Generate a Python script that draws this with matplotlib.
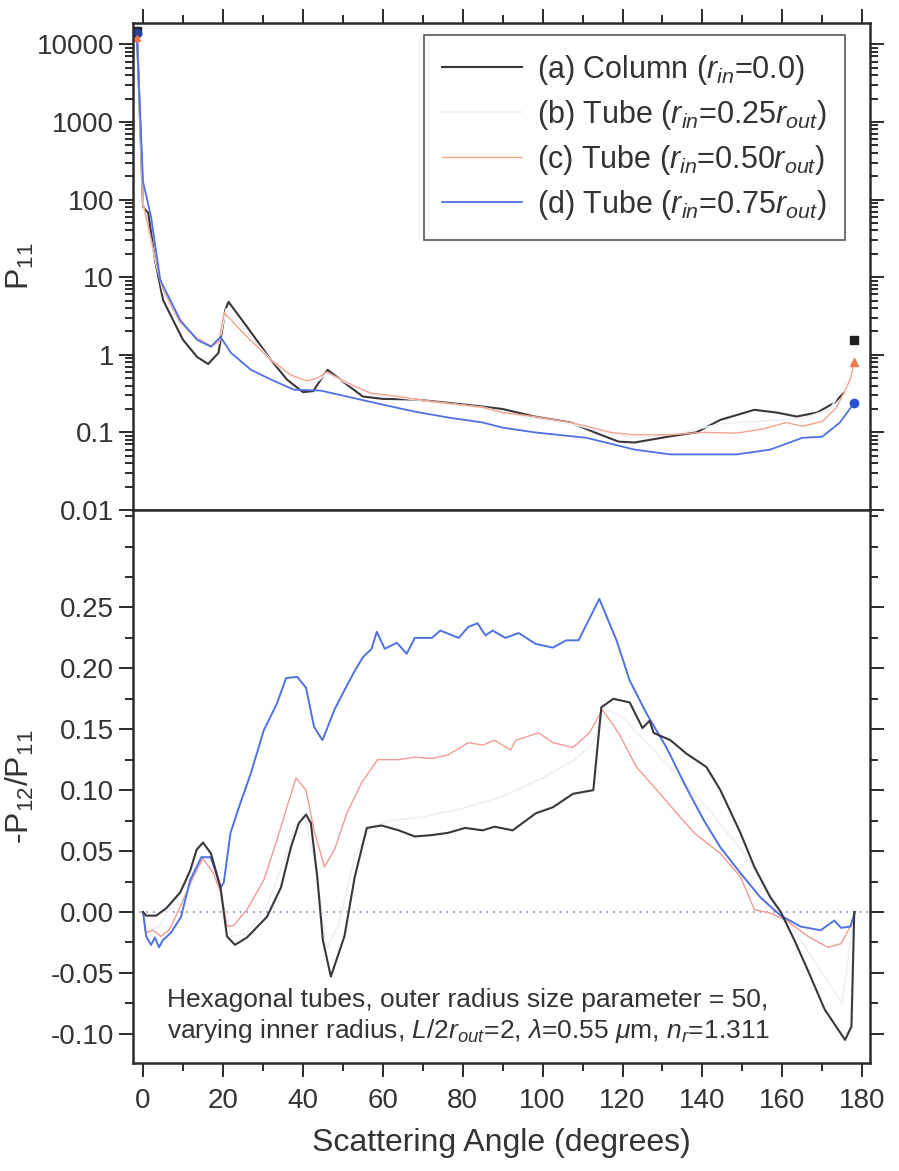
'''
Phase function P11 and degree of linear polarization -P12/P11 for hexagonal
columns and tubes with varying inner radius.
'''

import numpy as np
import matplotlib
matplotlib.use("Agg")
import matplotlib.pyplot as plt
from matplotlib.ticker import MultipleLocator, LogLocator, NullFormatter

plt.rcParams['font.family'] = ['Liberation Sans', 'DejaVu Sans']
plt.rcParams['mathtext.fontset'] = 'custom'
plt.rcParams['mathtext.rm'] = 'Liberation Sans'
plt.rcParams['mathtext.it'] = 'Liberation Sans:italic'

# ---- top panel: P11 (log scale) ----
ang_a_top = [-1.5, 0, 1.3, 3, 5, 7.5, 10, 13.5, 16.3, 18.9, 20.6, 21.4, 26, 32, 36, 40, 42.6,
             44.5, 46.2, 50.3, 55, 60, 68, 76.5, 85, 90, 98, 107, 113, 119, 123, 132,
             138.5, 144.5, 153, 158.6, 163.6, 168.7, 173, 175.3]
p11_a = [13800, 80, 67, 16.6, 5.1, 2.8, 1.56, 0.94, 0.76, 1.06, 3.8, 4.8, 2.3, 0.86, 0.48,
         0.33, 0.34, 0.48, 0.64, 0.44, 0.29, 0.27, 0.265, 0.24, 0.215, 0.20, 0.16, 0.134,
         0.10, 0.076, 0.074, 0.089, 0.10, 0.145, 0.195, 0.18, 0.16, 0.18, 0.24, 0.32]

ang_b_top = [-1.5, 0, 3, 5, 9, 13.5, 17, 19, 20.8, 26, 32, 37, 41, 44, 46, 51, 57, 64, 72,
             85, 95, 107, 117, 125, 135, 145, 155, 165, 172, 176]
p11_b = [12500, 85, 17, 6.5, 2.7, 1.6, 1.25, 1.4, 3.9, 1.9, 0.86, 0.52, 0.42, 0.47, 0.58,
         0.43, 0.31, 0.28, 0.25, 0.21, 0.16, 0.13, 0.095, 0.085, 0.10, 0.13, 0.14, 0.15,
         0.2, 0.45]

ang_c_top = [-1.5, 0, 3, 5, 9.3, 13.5, 17, 19, 20.3, 26, 32, 37, 41, 43.6, 46, 51, 57, 64,
             72, 85, 90, 98, 107, 111, 117, 123, 132, 140, 148.6, 155, 161, 165, 170,
             173.6, 177, 178]
p11_c = [12000, 90, 18, 7, 2.6, 1.65, 1.3, 1.47, 3.5, 1.7, 0.86, 0.55, 0.46, 0.50, 0.6,
         0.44, 0.32, 0.29, 0.25, 0.21, 0.18, 0.16, 0.134, 0.12, 0.10, 0.093, 0.093, 0.10,
         0.098, 0.11, 0.134, 0.12, 0.138, 0.21, 0.48, 0.81]

ang_d_top = [-1.5, 0, 2, 4.3, 9.3, 13.5, 17, 19.4, 22, 27, 32, 37.7, 44.5, 51, 59.6, 68,
             76.5, 85, 90, 98, 111, 123, 132, 140, 148.6, 157, 165, 170, 174.4, 178]
p11_d = [11000, 170, 60, 9.2, 2.8, 1.56, 1.27, 1.7, 1.06, 0.64, 0.48, 0.355, 0.345, 0.29,
         0.23, 0.185, 0.155, 0.134, 0.115, 0.10, 0.085, 0.06, 0.052, 0.052, 0.052, 0.06,
         0.085, 0.088, 0.134, 0.24]

# forward / backward peak markers
fwd_ang = -1.5
back_ang = 178
fwd_a, fwd_c, fwd_d = 15000, 12000, 14000
back_a, back_c, back_d = 1.56, 0.81, 0.24

# ---- bottom panel: -P12/P11 ----
ang_a_bot = [0, 0.8, 3.3, 5.8, 9.3, 11.8, 13.4, 15, 17, 19.4, 21, 23, 26, 31, 34.5, 37, 39,
             40.8, 42, 43.6, 45, 47, 50.4, 53, 56, 59.7, 64, 68, 72, 76.4, 80.6, 85, 88,
             92.5, 98.3, 102.6, 107.6, 112.7, 114.7, 117.7, 121.8, 125, 126.8, 127.8, 132,
             136, 141, 144.5, 149.5, 153, 157, 159.6, 163, 166.4, 170.6, 175.7, 177.3, 178]
pol_a = [0, -0.003, -0.003, 0.003, 0.016, 0.034, 0.051, 0.057, 0.048, 0.02, -0.02, -0.027,
         -0.021, -0.004, 0.02, 0.053, 0.073, 0.08, 0.073, 0.029, -0.023, -0.053, -0.02,
         0.029, 0.069, 0.071, 0.067, 0.062, 0.063, 0.065, 0.069, 0.067, 0.07, 0.067, 0.081,
         0.086, 0.097, 0.10, 0.168, 0.175, 0.172, 0.151, 0.157, 0.147, 0.141, 0.13, 0.119,
         0.10, 0.065, 0.037, 0.012, 0.0, -0.023, -0.048, -0.08, -0.105, -0.094, 0.0]

ang_b_bot = [0, 1, 4, 8, 12, 15, 17.5, 20, 22, 26, 31, 35, 38, 40.5, 43, 46, 49, 53, 57, 62,
             70, 80, 90, 100, 108, 113, 115, 120, 130, 140, 150, 160, 165, 170, 175, 178]
pol_b = [0, -0.015, -0.012, 0.01, 0.03, 0.045, 0.04, 0.01, -0.02, -0.018, 0.005, 0.04,
         0.07, 0.078, 0.04, -0.03, -0.01, 0.045, 0.07, 0.075, 0.078, 0.085, 0.095, 0.11,
         0.125, 0.14, 0.168, 0.16, 0.125, 0.09, 0.05, 0.0, -0.025, -0.05, -0.075, 0.0]

ang_c_bot = [0, 0.6, 2.5, 4.5, 6.5, 9, 12.6, 15, 17.6, 19.4, 21, 22.7, 26, 30.2, 33.5, 36,
             38.3, 40.8, 42.8, 45.4, 47.9, 51, 54.7, 58.7, 63.8, 68, 72.3, 76.4, 81.4, 85,
             88, 92, 93.3, 99, 102.6, 107.6, 111.7, 115, 119, 123.5, 127.8, 132.8, 137.9,
             144.5, 149.5, 153, 157, 161, 166.4, 171.4, 174.7, 177, 178.2]
pol_c = [0, -0.017, -0.015, -0.02, -0.015, 0.002, 0.029, 0.044, 0.032, 0.016, -0.012,
         -0.011, 0.002, 0.026, 0.059, 0.086, 0.11, 0.10, 0.067, 0.037, 0.051, 0.081, 0.106,
         0.125, 0.125, 0.127, 0.126, 0.129, 0.139, 0.137, 0.141, 0.133, 0.141, 0.147, 0.139,
         0.135, 0.147, 0.166, 0.147, 0.119, 0.103, 0.084, 0.065, 0.048, 0.029, 0.002,
         -0.001, -0.007, -0.02, -0.029, -0.026, -0.012, 0.0]

ang_d_bot = [0, 0.8, 2, 3, 4, 5, 7, 9.5, 11.8, 14.6, 16.9, 18, 19.4, 20.2, 21.9, 24, 27,
             30.2, 33.5, 35.8, 38.6, 40.8, 42.8, 44.9, 47.9, 50.4, 53, 55, 57.2, 58.5, 60.5,
             63.5, 66, 68, 72.3, 74.4, 79, 81.4, 83.7, 85.7, 87.5, 90.7, 94, 98.3, 102.6,
             105.9, 109, 114.2, 118.5, 121.8, 126, 131, 136, 140.4, 144.5, 149.5, 154.5,
             159.6, 164.6, 169.6, 173, 174.7, 177, 178.2]
pol_d = [0, -0.02, -0.027, -0.021, -0.029, -0.023, -0.017, -0.004, 0.026, 0.045, 0.045,
         0.035, 0.02, 0.024, 0.065, 0.086, 0.114, 0.149, 0.171, 0.192, 0.193, 0.184, 0.152,
         0.141, 0.166, 0.182, 0.198, 0.209, 0.216, 0.23, 0.216, 0.221, 0.212, 0.225, 0.225,
         0.231, 0.225, 0.234, 0.237, 0.227, 0.231, 0.225, 0.229, 0.22, 0.217, 0.223, 0.223,
         0.257, 0.223, 0.19, 0.163, 0.135, 0.102, 0.075, 0.053, 0.032, 0.012, -0.003,
         -0.012, -0.015, -0.007, -0.013, -0.012, 0.0]

LABELS = [r"(a) Column ($\it{r}_{\it{in}}$=0.0)",
          r"(b) Tube ($\it{r}_{\it{in}}$=0.25$\it{r}_{\it{out}}$)",
          r"(c) Tube ($\it{r}_{\it{in}}$=0.50$\it{r}_{\it{out}}$)",
          r"(d) Tube ($\it{r}_{\it{in}}$=0.75$\it{r}_{\it{out}}$)"]

C_A = "#3b3639"
C_B = "#edf0f6"
C_C = "#f2a58e"
C_D = "#4f72e3"
SPINE = "#2e2a2c"


def style_axes(ax):
    for s in ax.spines.values():
        s.set_linewidth(1.8)
        s.set_color(SPINE)
    ax.tick_params(which='both', direction='out', color=SPINE, width=1.4,
                   labelsize=20, labelcolor="#333")
    ax.tick_params(which='major', length=10)
    ax.tick_params(which='minor', length=6)


fig = plt.figure(figsize=(8.99, 11.71), dpi=100)
ax1 = fig.add_axes([0.148, 0.5645, 0.820, 0.4155])
ax2 = fig.add_axes([0.148, 0.0922, 0.820, 0.4723])

# top panel
ax1.plot(ang_a_top, p11_a, color=C_A, lw=1.5, label=LABELS[0])
ax1.plot(ang_b_top, p11_b, color=C_B, lw=1.2, label=LABELS[1])
ax1.plot(ang_c_top, p11_c, color=C_C, lw=1.0, label=LABELS[2])
ax1.plot(ang_d_top, p11_d, color=C_D, lw=1.3, label=LABELS[3])
ax1.plot([fwd_ang], [fwd_a], 's', color="#222", ms=6)
ax1.plot([fwd_ang], [fwd_d], 'o', color="#2a3f9a", ms=6)
ax1.plot([fwd_ang], [fwd_c], '^', color="#f07040", ms=5)
ax1.plot([back_ang], [back_a], 's', color="#222", ms=6)
ax1.plot([back_ang], [back_c], '^', color="#f07850", ms=6)
ax1.plot([back_ang], [back_d], 'o', color="#2a4fd0", ms=6)

ax1.set_yscale('log')
ax1.set_ylim(0.01, 18600)
ax1.set_xlim(-2.5, 182)
ax1.set_yticks([0.01, 0.1, 1, 10, 100, 1000, 10000])
ax1.set_yticklabels(["0.01", "0.1", "1", "10", "100", "1000", "10000"])
ax1.yaxis.set_minor_locator(LogLocator(base=10, subs=np.arange(2, 10), numticks=20))
ax1.yaxis.set_minor_formatter(NullFormatter())
ax1.xaxis.set_major_locator(MultipleLocator(20))
ax1.xaxis.set_minor_locator(MultipleLocator(10))
style_axes(ax1)
ax1.tick_params(axis='x', which='both', top=True, bottom=True, labelbottom=False)
ax1.tick_params(axis='y', which='both', left=True, right=True)
ax1.set_ylabel(r"P$_{11}$", fontsize=23, color="#333")
ax1.yaxis.set_label_coords(-0.132, 0.5)

leg = ax1.legend(loc='upper right', bbox_to_anchor=(0.966, 0.977), fontsize=22,
                 frameon=True, fancybox=False, handlelength=2.6, handletextpad=0.5,
                 labelspacing=0.36, borderpad=0.6, borderaxespad=0)
leg.get_frame().set_edgecolor(SPINE)
leg.get_frame().set_linewidth(1.2)
for t in leg.get_texts():
    t.set_color("#333")

# bottom panel
ax2.axhline(0, color="#7c80b5", lw=1.2, ls=(0, (1, 3)))
ax2.plot(ang_b_bot, pol_b, color=C_B, lw=1.2)
ax2.plot(ang_c_bot, pol_c, color="#f29a94", lw=1.0)
ax2.plot(ang_d_bot, pol_d, color=C_D, lw=1.4)
ax2.plot(ang_a_bot, pol_a, color=C_A, lw=1.5)

ax2.set_xlim(-2.5, 182)
ax2.set_ylim(-0.124, 0.33)
ax2.set_xticks(np.arange(0, 181, 20))
ax2.xaxis.set_minor_locator(MultipleLocator(10))
ax2.set_yticks(np.arange(-0.10, 0.26, 0.05))
ax2.set_yticklabels(["-0.10", "-0.05", "0.00", "0.05", "0.10", "0.15", "0.20", "0.25"])
ax2.yaxis.set_minor_locator(MultipleLocator(0.025))
style_axes(ax2)
ax2.tick_params(axis='x', which='both', top=False, bottom=True)
ax2.tick_params(axis='x', which='major', pad=8)
ax2.tick_params(axis='y', which='both', left=True, right=True)
ax2.set_ylabel(r"-P$_{12}$/P$_{11}$", fontsize=23, color="#333")
ax2.yaxis.set_label_coords(-0.132, 0.5)
ax2.set_xlabel("Scattering Angle (degrees)", fontsize=23, color="#333", labelpad=10)

ax2.text(0.046, 0.114, "Hexagonal tubes, outer radius size parameter = 50,",
         transform=ax2.transAxes, fontsize=19, color="#333", va='center')
ax2.text(0.046, 0.058,
         r"varying inner radius, $\it{L}$/2$\it{r}_{\it{out}}$=2, $\lambda$=0.55 $\mu$m, $\it{n}_{\it{r}}$=1.311",
         transform=ax2.transAxes, fontsize=19, color="#333", va='center')

fig.savefig("out.png", dpi=100)
